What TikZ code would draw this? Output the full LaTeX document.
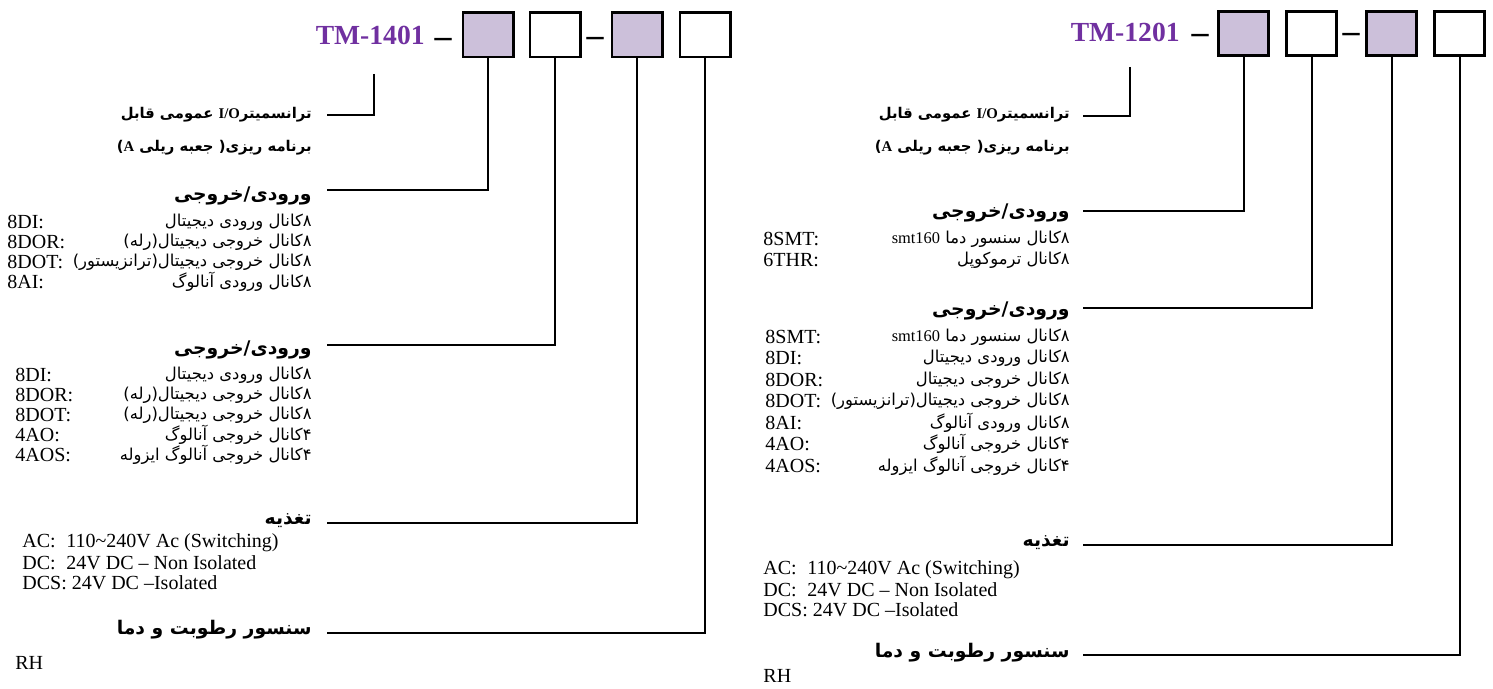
\documentclass[tikz,border=0pt]{standalone}
\usepackage{fontspec}
\setmainfont{Liberation Serif}
\newfontfamily\farsifont[Script=Arabic]{DejaVu Sans}
\TeXXeTstate=1
\usetikzlibrary{positioning,calc}

\definecolor{modelpurple}{HTML}{7030A0}
\definecolor{slotlilac}{HTML}{CCC0DA}

\newcommand{\fatxt}[1]{\beginR #1\endR}
\newcommand{\entxt}[1]{\beginL{\rmfamily #1}\endL}
\newcommand{\pwr}[2]{\makebox[22pt][l]{#1}#2}

\begin{document}
\begin{tikzpicture}[x=0.5pt,y=-0.5pt,
  slot/.style={draw,line width=1.3pt,minimum width=25.2pt,minimum height=22.2pt,inner sep=0pt},
  slotlil/.style={slot,fill=slotlilac},
  modeltxt/.style={anchor=base east,inner sep=0pt,text=modelpurple,font=\bfseries\fontsize{13.8}{14}\selectfont},
  dashsym/.style={inner sep=0pt,font=\bfseries\fontsize{17}{17}\selectfont},
  lead/.style={line width=1pt},
  hdr/.style={anchor=east,inner sep=0pt,font=\farsifont\bfseries\fontsize{9.4}{11}\selectfont},
  intro/.style={anchor=east,inner sep=0pt,font=\farsifont\bfseries\fontsize{7.4}{9}\selectfont},
  desc/.style={anchor=east,inner sep=0pt,font=\farsifont\fontsize{8.2}{10}\selectfont},
  tag/.style={anchor=west,inner sep=0pt,font=\fontsize{10}{11}\selectfont}]
\useasboundingbox (0,0) rectangle (1493,689);

% left: TM-1401
\begin{scope}
\node[modeltxt] (lmodel) at (425,45) {TM-1401};
\node[dashsym] (ldash1) at (443,43) {--};
\node[slotlil] (ls1) at (488,35) {};
\node[slot] (ls2) at (555,35) {};
\node[dashsym] (ldash2) at (595,42) {--};
\node[slotlil] (ls3) at (637,35) {};
\node[slot] (ls4) at (705,35) {};

\node[intro] (lin1) at (312,115) {\fatxt{ترانسمیتر\entxt{I/O} عمومی قابل}};
\node[intro] (lin2) at (312,148) {\fatxt{برنامه ریزی( جعبه ریلی \entxt{A})}};
\coordinate (lq0) at (374,74);
\coordinate (lq1) at (327,115);
\draw[lead] (lq0) |- (lq1);

\node[hdr] (lio1) at (312,196) {\fatxt{ورودی/خروجی}};
\coordinate (lk1) at (327,190);
\draw[lead] (ls1.south) |- (lk1);
\foreach \yy/\tg/\ds [count=\i] in {222/8DI:/{۸کانال ورودی دیجیتال},
  242/8DOR:/{۸کانال خروجی دیجیتال(رله)},
  262/8DOT:/{۸کانال خروجی دیجیتال(ترانزیستور)},
  282/8AI:/{۸کانال ورودی آنالوگ}}
{\node[tag] (lat\i) at (7,\yy) {\tg};
 \node[desc] (lad\i) at (312,\yy) {\fatxt{\ds}};}

\node[hdr] (lio2) at (312,350) {\fatxt{ورودی/خروجی}};
\coordinate (lk2) at (327,345);
\draw[lead] (ls2.south) |- (lk2);
\foreach \yy/\tg/\ds [count=\i] in {375/8DI:/{۸کانال ورودی دیجیتال},
  395/8DOR:/{۸کانال خروجی دیجیتال(رله)},
  415/8DOT:/{۸کانال خروجی دیجیتال(رله)},
  435/4AO:/{۴کانال خروجی آنالوگ},
  455/4AOS:/{۴کانال خروجی آنالوگ ایزوله}}
{\node[tag] (lbt\i) at (15,\yy) {\tg};
 \node[desc] (lbd\i) at (312,\yy) {\fatxt{\ds}};}

\node[hdr] (lpw) at (312,521) {\fatxt{تغذیه}};
\coordinate (lk3) at (327,523);
\draw[lead] (ls3.south) |- (lk3);
\node[tag] (lp1) at (22,543) {\pwr{AC:}{110\textasciitilde240V Ac (Switching)}};
\node[tag] (lp2) at (22,563) {\pwr{DC:}{24V DC -- Non Isolated}};
\node[tag] (lp3) at (22,583) {DCS: 24V DC --Isolated};

\node[hdr] (lsn) at (312,630) {\fatxt{سنسور رطوبت و دما}};
\coordinate (lk4) at (327,633);
\draw[lead] (ls4.south) |- (lk4);
\node[tag] (lrh) at (15,663) {RH};
\end{scope}

% right: TM-1201
\begin{scope}
\node[modeltxt] (rmodel) at (1180,42) {TM-1201};
\node[dashsym] (rdash1) at (1200,39) {--};
\node[slotlil] (rs1) at (1243.5,33.5) {};
\node[slot] (rs2) at (1311.5,33.5) {};
\node[dashsym] (rdash2) at (1351,38) {--};
\node[slotlil] (rs3) at (1391.5,33.5) {};
\node[slot] (rs4) at (1459.5,33.5) {};

\node[intro] (rin1) at (1070,115) {\fatxt{ترانسمیتر\entxt{I/O} عمومی قابل}};
\node[intro] (rin2) at (1070,148) {\fatxt{برنامه ریزی( جعبه ریلی \entxt{A})}};
\coordinate (rq0) at (1130,67);
\coordinate (rq1) at (1083,116);
\draw[lead] (rq0) |- (rq1);

\node[hdr] (rio1) at (1070,213) {\fatxt{ورودی/خروجی}};
\coordinate (rk1) at (1083,211);
\draw[lead] (rs1.south) |- (rk1);
\foreach \yy/\tg/\ds [count=\i] in {239/8SMT:/{۸کانال سنسور دما \entxt{smt160}},
  260/6THR:/{۸کانال ترموکوپل}}
{\node[tag] (rat\i) at (763,\yy) {\tg};
 \node[desc] (rad\i) at (1070,\yy) {\fatxt{\ds}};}

\node[hdr] (rio2) at (1070,311) {\fatxt{ورودی/خروجی}};
\coordinate (rk2) at (1083,308);
\draw[lead] (rs2.south) |- (rk2);
\foreach \yy/\tg/\ds [count=\i] in {337/8SMT:/{۸کانال سنسور دما \entxt{smt160}},
  358/8DI:/{۸کانال ورودی دیجیتال},
  380/8DOR:/{۸کانال خروجی دیجیتال},
  401/8DOT:/{۸کانال خروجی دیجیتال(ترانزیستور)},
  423/8AI:/{۸کانال ورودی آنالوگ},
  444/4AO:/{۴کانال خروجی آنالوگ},
  466/4AOS:/{۴کانال خروجی آنالوگ ایزوله}}
{\node[tag] (rbt\i) at (765,\yy) {\tg};
 \node[desc] (rbd\i) at (1070,\yy) {\fatxt{\ds}};}

\node[hdr] (rpw) at (1070,543) {\fatxt{تغذیه}};
\coordinate (rk3) at (1083,545);
\draw[lead] (rs3.south) |- (rk3);
\node[tag] (rp1) at (763,570) {\pwr{AC:}{110\textasciitilde240V Ac (Switching)}};
\node[tag] (rp2) at (763,590) {\pwr{DC:}{24V DC -- Non Isolated}};
\node[tag] (rp3) at (763,610) {DCS: 24V DC --Isolated};

\node[hdr] (rsn) at (1070,653) {\fatxt{سنسور رطوبت و دما}};
\coordinate (rk4) at (1083,655);
\draw[lead] (rs4.south) |- (rk4);
\node[tag] (rrh) at (763,676) {RH};
\end{scope}
\end{tikzpicture}
\end{document}
